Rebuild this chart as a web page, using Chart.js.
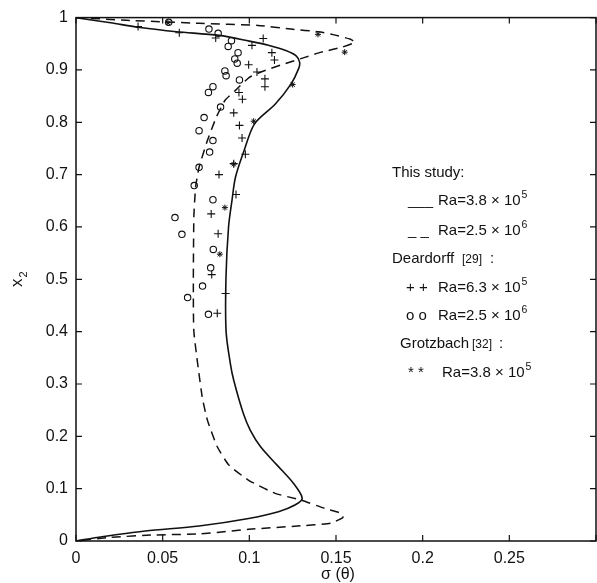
<!DOCTYPE html>
<html>
<head>
<meta charset="utf-8">
<script src="https://cdn.jsdelivr.net/npm/chart.js@4.4.1/dist/chart.umd.min.js"></script>
<style>
  html, body { margin: 0; padding: 0; background: #fff; overflow: hidden; }
  canvas { display: block; }
</style>
</head>
<body>
<canvas id="sigma" width="604" height="583"></canvas>
<script>
// this study, Ra=3.8e5 (solid)
let solidSigma = [0, 0.02, 0.037, 0.058, 0.0825, 0.1, 0.111, 0.121, 0.127, 0.129, 0.1285, 0.124, 0.115, 0.103, 0.097, 0.092, 0.090, 0.088, 0.0865, 0.0866, 0.089, 0.091, 0.0965, 0.1005, 0.1065, 0.116, 0.1255, 0.1305, 0.1263, 0.1168, 0.0996, 0.071, 0.04, 0.015, 0];
let solidX2 = [1, 0.99, 0.981, 0.973, 0.966, 0.955, 0.947, 0.937, 0.927, 0.915, 0.903, 0.873, 0.835, 0.797, 0.746, 0.695, 0.651, 0.6, 0.5, 0.4, 0.34, 0.307, 0.244, 0.212, 0.18, 0.145, 0.110, 0.0815, 0.0687, 0.056, 0.043, 0.0286, 0.019, 0.008, 0];

// this study, Ra=2.5e6 (dashed)
let dashSigma = [0, 0.029, 0.071, 0.105, 0.124, 0.140, 0.149, 0.158, 0.161, 0.153, 0.1415, 0.132, 0.1206, 0.109, 0.1, 0.092, 0.086, 0.081, 0.0758, 0.071, 0.069, 0.068, 0.0677, 0.068, 0.0728, 0.0758, 0.0815, 0.0882, 0.0996, 0.1149, 0.130, 0.1434, 0.153, 0.154, 0.147, 0.128, 0.0996, 0.071, 0.045, 0.02, 0];
let dashX2 = [1, 0.995, 0.989, 0.985, 0.978, 0.973, 0.967, 0.959, 0.953, 0.943, 0.934, 0.924, 0.912, 0.899, 0.886, 0.861, 0.842, 0.81, 0.765, 0.714, 0.676, 0.62, 0.5, 0.4, 0.275, 0.231, 0.18, 0.145, 0.116, 0.091, 0.078, 0.0624, 0.053, 0.045, 0.034, 0.0286, 0.0223, 0.0134, 0.0115, 0.007, 0];

// Deardorff [29], Ra=6.3e5 (+)
let plusSigma = [0.0358, 0.0596, 0.0806, 0.108, 0.1015, 0.113, 0.1145, 0.0996, 0.1044, 0.109, 0.109, 0.094, 0.096, 0.091, 0.0943, 0.0958, 0.0977, 0.091, 0.0825, 0.0923, 0.078, 0.082, 0.0783, 0.0863, 0.0815];
let plusX2 = [0.983, 0.971, 0.961, 0.960, 0.947, 0.933, 0.919, 0.910, 0.896, 0.883, 0.868, 0.857, 0.844, 0.818, 0.794, 0.770, 0.739, 0.721, 0.700, 0.662, 0.625, 0.587, 0.509, 0.473, 0.435];

// Deardorff [29], Ra=2.5e6 (o)
let circSigma = [0.0535, 0.0767, 0.082, 0.0897, 0.0878, 0.0935, 0.0916, 0.093, 0.0859, 0.0866, 0.0943, 0.079, 0.0764, 0.0834, 0.0739, 0.071, 0.079, 0.0771, 0.071, 0.0682, 0.079, 0.0571, 0.0611, 0.0792, 0.0777, 0.073, 0.0644, 0.0764];
let circX2 = [0.991, 0.978, 0.970, 0.956, 0.945, 0.933, 0.921, 0.913, 0.898, 0.889, 0.881, 0.868, 0.857, 0.829, 0.809, 0.784, 0.765, 0.743, 0.714, 0.679, 0.652, 0.618, 0.586, 0.557, 0.522, 0.487, 0.465, 0.433];

// Grotzbach [32], Ra=3.8e5 (*)
let starSigma = [0.053, 0.1396, 0.155, 0.125, 0.1025, 0.091, 0.0859, 0.083];
let starX2 = [0.99, 0.968, 0.934, 0.872, 0.802, 0.720, 0.637, 0.548];

let xTicks = [0, 0.05, 0.1, 0.15, 0.2, 0.25];

function pts(xs, ys) {
  return xs.map((v, i) => ({ x: v, y: ys[i] }));
}

const fontFam = '"Liberation Sans", Arial, Helvetica, sans-serif';
const ink = '#111';

function raLabel(ctx, txt, sup, x, y) {
  ctx.font = '15px ' + fontFam;
  ctx.fillText(txt, x, y);
  let w = ctx.measureText(txt).width;
  ctx.font = '10.5px ' + fontFam;
  ctx.fillText(sup, x + w + 1, y - 7);
}

const framePlugin = {
  id: 'frame',
  afterDraw(chart) {
    const ctx = chart.ctx;
    const a = chart.chartArea;
    const xs = chart.scales.x, ys = chart.scales.y;
    ctx.save();
    ctx.strokeStyle = ink;
    ctx.lineWidth = 1.5;
    ctx.strokeRect(a.left, a.top, a.right - a.left, a.bottom - a.top);
    ctx.lineWidth = 1.2;
    ctx.beginPath();
    xs.ticks.forEach(t => {
      let px = xs.getPixelForValue(t.value);
      ctx.moveTo(px, a.bottom); ctx.lineTo(px, a.bottom - 6);
      ctx.moveTo(px, a.top); ctx.lineTo(px, a.top + 6);
    });
    ys.ticks.forEach(t => {
      let py = ys.getPixelForValue(t.value);
      ctx.moveTo(a.left, py); ctx.lineTo(a.left + 6, py);
      ctx.moveTo(a.right, py); ctx.lineTo(a.right - 6, py);
    });
    ctx.stroke();

    ctx.fillStyle = ink;
    ctx.textAlign = 'left';
    ctx.textBaseline = 'alphabetic';

    // axis titles
    ctx.font = '16px ' + fontFam;
    ctx.textAlign = 'center';
    ctx.fillText('σ (θ)', 338, 579);
    ctx.save();
    ctx.translate(22, 287);
    ctx.rotate(-Math.PI / 2);
    ctx.textAlign = 'left';
    ctx.font = '17px ' + fontFam;
    ctx.fillText('x', 0, 0);
    let wx = ctx.measureText('x').width;
    ctx.font = '11px ' + fontFam;
    ctx.fillText('2', wx + 1, 5);
    ctx.restore();

    // legend
    ctx.textAlign = 'left';
    ctx.font = '15px ' + fontFam;
    ctx.fillText('This study:', 392, 177);
    ctx.fillText('___', 408, 205);
    raLabel(ctx, 'Ra=3.8 × 10', '5', 438, 205);
    ctx.font = '15px ' + fontFam;
    ctx.fillText('_ _', 408, 235);
    raLabel(ctx, 'Ra=2.5 × 10', '6', 438, 235);
    ctx.font = '15px ' + fontFam;
    ctx.fillText('Deardorff', 392, 263);
    ctx.font = '12px ' + fontFam;
    ctx.fillText('[29]', 462, 263);
    ctx.font = '15px ' + fontFam;
    ctx.fillText(':', 490, 263);
    ctx.fillText('+ +', 406, 292);
    raLabel(ctx, 'Ra=6.3 × 10', '5', 438, 292);
    ctx.font = '15px ' + fontFam;
    ctx.fillText('o o', 406, 320);
    raLabel(ctx, 'Ra=2.5 × 10', '6', 438, 320);
    ctx.font = '15px ' + fontFam;
    ctx.fillText('Grotzbach', 400, 348);
    ctx.font = '12px ' + fontFam;
    ctx.fillText('[32]', 472, 348);
    ctx.font = '15px ' + fontFam;
    ctx.fillText(':', 499, 348);
    ctx.fillText('* *', 408, 377);
    raLabel(ctx, 'Ra=3.8 × 10', '5', 442, 377);
    ctx.restore();
  }
};

const ctx = document.getElementById('sigma');
const myChart = new Chart(ctx, {
  type: 'scatter',
  data: {
    datasets: [
      {
        label: 'Ra=3.8e5',
        data: pts(solidSigma, solidX2),
        showLine: true,
        borderColor: ink,
        borderWidth: 1.6,
        pointRadius: 0,
        tension: 0.3
      },
      {
        label: 'Ra=2.5e6',
        data: pts(dashSigma, dashX2),
        showLine: true,
        borderColor: ink,
        borderWidth: 1.5,
        borderDash: [9, 6],
        pointRadius: 0,
        tension: 0.15
      },
      {
        label: 'Deardorff 6.3e5',
        data: pts(plusSigma, plusX2),
        pointStyle: 'cross',
        pointRadius: 4,
        borderColor: ink,
        borderWidth: 1.1
      },
      {
        label: 'Deardorff 2.5e6',
        data: pts(circSigma, circX2),
        pointStyle: 'circle',
        pointRadius: 3.2,
        backgroundColor: 'rgba(0,0,0,0)',
        borderColor: ink,
        borderWidth: 1.1
      },
      {
        label: 'Grotzbach 3.8e5',
        data: pts(starSigma, starX2),
        pointStyle: 'star',
        pointRadius: 3,
        borderColor: ink,
        borderWidth: 1
      }
    ]
  },
  options: {
    responsive: false,
    animation: false,
    devicePixelRatio: 1,
    layout: { padding: { left: 0, top: 17, right: 3, bottom: 0 } },
    plugins: {
      legend: { display: false },
      tooltip: { enabled: false }
    },
    scales: {
      x: {
        type: 'linear',
        min: 0,
        max: 0.3,
        afterFit: s => { s.height = 42; },
        afterBuildTicks: s => { s.ticks = xTicks.concat([0.3]).map(v => ({ value: v })); },
        grid: { display: false, drawTicks: false },
        border: { display: false },
        ticks: {
          autoSkip: false,
          maxRotation: 0,
          padding: 8,
          color: ink,
          font: { family: fontFam, size: 16 },
          callback: v => (xTicks.includes(+v.toFixed(2)) ? String(+v.toFixed(2)) : '')
        }
      },
      y: {
        type: 'linear',
        min: 0,
        max: 1,
        afterFit: s => { s.width = 76; },
        grid: { display: false, drawTicks: false },
        border: { display: false },
        ticks: {
          stepSize: 0.1,
          autoSkip: false,
          padding: 8,
          color: ink,
          font: { family: fontFam, size: 16 },
          callback: v => String(+v.toFixed(1))
        }
      }
    }
  },
  plugins: [framePlugin]
});
</script>
</body>
</html>
